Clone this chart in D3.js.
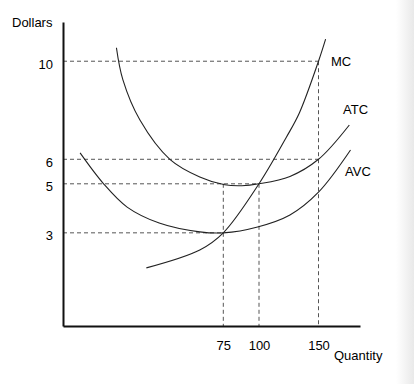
<!DOCTYPE html>
<html>
<head>
<meta charset="utf-8">
<script src="https://cdn.jsdelivr.net/npm/d3@7"></script>
<style>
  body { margin: 0; background: #fff; }
  svg { display: block; font-family: "Liberation Sans", Arial, sans-serif; }
  .axis path { stroke: #111; stroke-width: 2; }
  .axis text { font-size: 13px; fill: #000; }
  .guide { stroke: #555; stroke-width: 1; stroke-dasharray: 4,3; fill: none; }
  .curve { stroke: #222; stroke-width: 1.1; fill: none; }
</style>
</head>
<body>
<div id="chart"></div>
<script>
// tick values
var qTicks = [75, 100, 150];
var dTicks = [3, 5, 6, 10];

// curves (quantity, dollars)
var mcQ  = [39, 64, 75, 100, 123, 134, 150, 156];
var mcV  = [1.57, 2.3, 3, 5, 6.9, 7.9, 10, 10.9];

var atcQ = [25, 28, 36, 50, 64, 76, 88, 100, 126, 150, 176];
var atcV = [10.55, 9.25, 7.6, 6.0, 5.28, 4.96, 4.92, 5, 5.3, 6, 7.4];

var avcQ = [8, 19, 30, 45, 64, 75, 99, 126, 150, 177];
var avcV = [6.26, 5.0, 4.05, 3.4, 3.04, 3, 3.24, 3.73, 4.66, 6.38];

// dashed guide lines: [quantity, dollars] points
var hGuides = [[150, 10], [150, 6], [100, 5], [75, 3]];
var vGuides = [[75, 5], [100, 5], [150, 10]];

var curveNames = ["MC", "ATC", "AVC"];

var width = 414, height = 384;

var svg = d3.select("#chart").append("svg")
    .attr("width", width)
    .attr("height", height);

// paper shading at the right edge of the scan
var grad = svg.append("defs").append("linearGradient")
    .attr("id", "edge").attr("x1", 0).attr("x2", 1);
grad.append("stop").attr("offset", 0).attr("stop-color", "#fff");
grad.append("stop").attr("offset", 1).attr("stop-color", "#e9e9e9");
svg.append("rect").attr("x", 396).attr("y", 0).attr("width", 18).attr("height", height)
    .attr("fill", "url(#edge)");

// the quantity axis is not drawn to scale in the original, so piecewise
var x = d3.scaleLinear()
    .domain([0, 75, 100, 150, 185])
    .range([63, 223.3, 259, 318.5, 360]);

var y = d3.scaleLinear()
    .domain([-0.8, 11.6])
    .range([326, 22]);

// guides
svg.selectAll(".hguide")
    .data(hGuides)
    .enter().append("line")
    .attr("class", "guide")
    .attr("x1", x(0)).attr("x2", function(d) { return x(d[0]); })
    .attr("y1", function(d) { return y(d[1]); })
    .attr("y2", function(d) { return y(d[1]); });

svg.selectAll(".vguide")
    .data(vGuides)
    .enter().append("line")
    .attr("class", "guide")
    .attr("x1", function(d) { return x(d[0]); })
    .attr("x2", function(d) { return x(d[0]); })
    .attr("y1", function(d) { return y(d[1]); })
    .attr("y2", y(-0.8));

// curves
var line = d3.line()
    .x(function(d) { return x(d[0]); })
    .y(function(d) { return y(d[1]); })
    .curve(d3.curveCatmullRom.alpha(0.5));

var curves = [
  d3.zip(mcQ, mcV),
  d3.zip(atcQ, atcV),
  d3.zip(avcQ, avcV)
];

svg.selectAll(".curve")
    .data(curves)
    .enter().append("path")
    .attr("class", "curve")
    .attr("d", line);

// axes
svg.append("g")
    .attr("class", "axis")
    .attr("transform", "translate(" + x(0) + ",0)")
    .call(d3.axisLeft(y).tickValues(dTicks).tickSize(0).tickPadding(10))
    .selectAll("text").attr("dy", "0.55em");

svg.append("g")
    .attr("class", "axis")
    .attr("transform", "translate(0," + y(-0.8) + ")")
    .call(d3.axisBottom(x).tickValues(qTicks).tickSize(0).tickPadding(15));

// axis titles
svg.append("text")
    .attr("x", 12).attr("y", 27)
    .style("font-size", "13px")
    .text("Dollars");

svg.append("text")
    .attr("x", 334).attr("y", 360)
    .style("font-size", "13px")
    .text("Quantity");

// curve labels
var labelPos = [[331, 66], [343, 114], [345, 176]];
svg.selectAll(".clabel")
    .data(curveNames)
    .enter().append("text")
    .attr("class", "clabel")
    .attr("x", function(d, i) { return labelPos[i][0]; })
    .attr("y", function(d, i) { return labelPos[i][1]; })
    .style("font-size", "13px")
    .text(function(d) { return d; });
</script>
</body>
</html>
